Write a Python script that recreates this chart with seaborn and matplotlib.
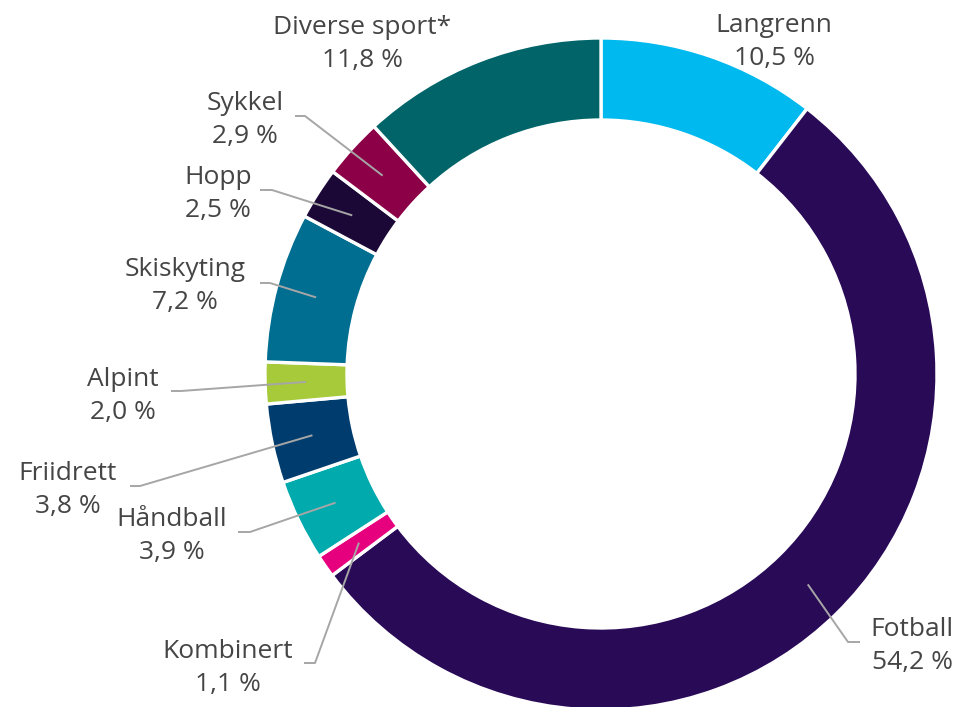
import matplotlib
matplotlib.use("Agg")
import matplotlib.pyplot as plt
import numpy as np
import seaborn as sns

# Share of coverage by sport, clockwise from 12 o'clock
sports = ["Langrenn", "Fotball", "Kombinert", "Håndball", "Friidrett",
          "Alpint", "Skiskyting", "Hopp", "Sykkel", "Diverse sport*"]
shares = [10.5, 54.2, 1.1, 3.9, 3.8, 2.0, 7.2, 2.5, 2.9, 11.8]
colors = ["#00b9ef", "#290a57", "#e6007e", "#00aaad", "#003d6e",
          "#a6ca3a", "#006e91", "#1b0836", "#8b0046", "#006468"]

W, H = 963, 707
CX, CY = 601, 374          # ring centre (pixels from top-left)
R_OUT, R_IN = 336, 254

# Label layout: (x centre, y of first line) and leader elbow (start x, end x, y), pixels
label_pos = {
    "Langrenn":       (774, 25, None),
    "Fotball":        (912, 630, (860, 848, 642)),
    "Kombinert":      (228, 651, (304, 315, 663)),
    "Håndball":       (172, 520, (238, 250, 532)),
    "Friidrett":      (68, 473, (130, 140, 486)),
    "Alpint":         (123, 379, (171, 181, 391)),
    "Skiskyting":     (185, 270, (260, 270, 283)),
    "Hopp":           (218, 178, (260, 272, 190)),
    "Sykkel":         (245, 103, (295, 305, 116)),
    "Diverse sport*": (362, 28, None),
}

sns.set_theme(style="white")
plt.rcParams["font.family"] = ["Open Sans", "DejaVu Sans"]

fig = plt.figure(figsize=(W / 100, H / 100), dpi=100)
ax = fig.add_axes([0, 0, 1, 1])

def py(y):
    return H - y

ax.pie(shares, colors=colors, startangle=90, counterclock=False,
       center=(CX, py(CY)), radius=R_OUT, frame=True,
       wedgeprops=dict(width=R_OUT - R_IN, edgecolor="white", linewidth=2.4))
ax.set_xlim(0, W)
ax.set_ylim(0, H)
ax.set_aspect("equal")
ax.axis("off")

text_color = "#454545"
line_color = "#a6a6a6"
r_mid = (R_OUT + R_IN) / 2
cum = 0.0
total = sum(shares)
for name, val in zip(sports, shares):
    mid = cum + val / 2
    cum += val
    ang = np.deg2rad(90 - mid / total * 360)
    ax_x = CX + r_mid * np.cos(ang)
    ax_y = CY - r_mid * np.sin(ang)
    tx, ty, leader = label_pos[name]
    pct = f"{val:.1f}".replace(".", ",") + " %"
    ax.text(tx, py(ty), name, ha="center", va="center", fontsize=19, color=text_color)
    ax.text(tx, py(ty + 33), pct, ha="center", va="center", fontsize=19, color=text_color)
    if leader is not None:
        x0, x1, ly = leader
        ax.plot([x0, x1, ax_x], [py(ly), py(ly), py(ax_y)], color=line_color,
                lw=1.4, solid_capstyle="butt", zorder=5)

fig.savefig("out.png", dpi=100, facecolor="white")
